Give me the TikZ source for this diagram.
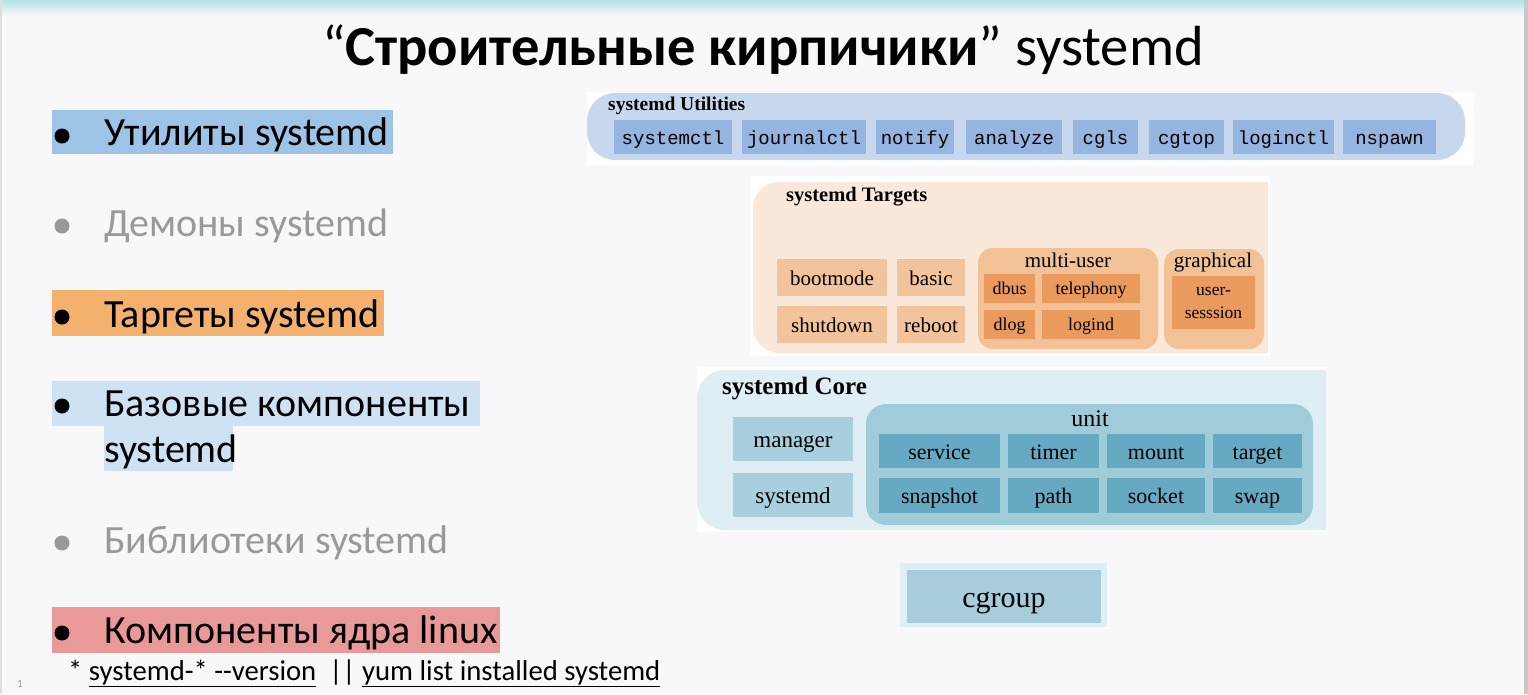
\documentclass[tikz,border=0pt]{standalone}
\usepackage{fontspec}
\setmainfont{Carlito}
\newfontfamily\dserif{Liberation Serif}
\newfontfamily\dmono{Liberation Mono}

\definecolor{pagebg}{HTML}{F8F8FA}
\definecolor{topband}{HTML}{B4E2E6}
\definecolor{edgegray}{HTML}{C8C8C8}
\definecolor{hlblue}{HTML}{9DC3E6}
\definecolor{hlorange}{HTML}{F4B16E}
\definecolor{hllight}{HTML}{CFE2F3}
\definecolor{hlpink}{HTML}{EA9999}
\definecolor{dimtext}{HTML}{999999}
\definecolor{utilpanel}{HTML}{C7D8EE}
\definecolor{utilbox}{HTML}{96B4E0}
\definecolor{tgtpanel}{HTML}{FAE8DA}
\definecolor{tgtbox}{HTML}{F3C39B}
\definecolor{tgtgroup}{HTML}{F2C195}
\definecolor{tgtdark}{HTML}{EA9A5C}
\definecolor{corepanel}{HTML}{DEEEF4}
\definecolor{corebox}{HTML}{A7CFDD}
\definecolor{unitbox}{HTML}{A0CCDA}
\definecolor{unitinner}{HTML}{66A9C3}
\definecolor{cgouter}{HTML}{DFEFF6}
\definecolor{cginner}{HTML}{A7CDDC}

% box given by its corners: name, x1, y1, x2, y2, style, text
\newcommand\cbox[7]{%
  \node[#6, minimum width={(#4)-(#2)}, minimum height={(#5)-(#3)}]
    (#1) at ({((#2)+(#4))/2},{((#3)+(#5))/2}) {#7};}

\tikzset{
  bullettext/.style={anchor=base west, inner sep=0pt, font=\fontsize{40}{48}\selectfont},
  ubox/.style={fill=utilbox, inner sep=0pt, text height=15.5pt, text depth=0.8pt,
    font=\dmono\fontsize{19}{21}\selectfont},
  tbox/.style={fill=tgtbox, inner sep=0pt, text height=16.9pt, text depth=1.2pt,
    font=\dserif\fontsize{21}{23}\selectfont},
  tdark/.style={fill=tgtdark, inner sep=0pt, text height=13.9pt, text depth=1.6pt,
    font=\dserif\fontsize{18}{20}\selectfont},
  cbx/.style={fill=corebox, inner sep=0pt, text height=18.2pt, text depth=1.6pt,
    font=\dserif\fontsize{23}{25}\selectfont},
  ubx/.style={fill=unitinner, inner sep=0pt, text height=17.5pt, text depth=1.4pt,
    font=\dserif\fontsize{22}{24}\selectfont},
  paneltitle/.style={anchor=base west, inner sep=0pt, font=\dserif\bfseries\fontsize{#1}{#1}\selectfont},
  grouplabel/.style={anchor=base, inner sep=0pt, font=\dserif\fontsize{21}{23}\selectfont},
}

\begin{document}
\begin{tikzpicture}[x=1pt,y=-1pt]
\useasboundingbox (0,0) rectangle (1528,694);
% slide background
\fill[pagebg] (0,0) rectangle (1528,694);
\shade[top color=topband, bottom color=pagebg] (0,0) rectangle (1528,16);
\fill[edgegray!60] (0,0) rectangle (1.5,694);
\fill[edgegray] (1524,0) rectangle (1528,694);

% title
\node[anchor=base, inner sep=0pt, font=\fontsize{56.5}{60}\selectfont] (title) at (763,65)
  {“\textbf{Строительные кирпичики}” systemd};

% bullet list
\fill[hlblue] (52,110) rectangle (393,154);
\fill[hlorange] (52,290) rectangle (384,336);
\fill[hllight] (52,381) rectangle (480,426);
\fill[hllight] (104,426) rectangle (233,471);
\fill[hlpink] (52,607) rectangle (500,653);

\fill (62,136) circle (7.5);
\fill[dimtext] (62,226) circle (7.5);
\fill (62,317) circle (7.5);
\fill (62,406) circle (7.5);
\fill[dimtext] (62,543) circle (7.5);
\fill (62,633) circle (7.5);

\node[bullettext] (b1) at (104,145) {Утилиты systemd};
\node[bullettext, text=dimtext] (b2) at (104,236) {Демоны systemd};
\node[bullettext] (b3) at (104,327) {Таргеты systemd};
\node[bullettext] (b4) at (104,416) {Базовые компоненты};
\node[bullettext] (b4b) at (104,462) {systemd};
\node[bullettext, text=dimtext] (b5) at (104,553) {Библиотеки systemd};
\node[bullettext] (b6) at (104,643) {Компоненты ядра linux};

\node[anchor=base west, inner sep=0pt, font=\fontsize{28.7}{32}\selectfont] (foot) at (68,680)
  {* \underline{systemd-* -\kern0pt-version}\ \ || \underline{yum list installed systemd}};
\node[anchor=base, inner sep=0pt, text=dimtext, font=\fontsize{11}{12}\selectfont] (pg1) at (20,687) {1};

% ---- systemd Utilities
\fill[white] (587,92) rectangle (1473,165);
\fill[utilpanel, rounded corners=28] (587,93) rectangle (1465,160);
\node[paneltitle=19.5] (utitle) at (608,110) {systemd Utilities};
\cbox{u1}{614}{120}{732}{154}{ubox}{systemctl}
\cbox{u2}{742}{120}{866}{154}{ubox}{journalctl}
\cbox{u3}{876}{120}{954}{154}{ubox}{notify}
\cbox{u4}{966}{120}{1062}{154}{ubox}{analyze}
\cbox{u5}{1073}{120}{1138}{154}{ubox}{cgls}
\cbox{u6}{1149}{120}{1224}{154}{ubox}{cgtop}
\cbox{u7}{1233}{120}{1334}{154}{ubox}{loginctl}
\cbox{u8}{1343}{120}{1436}{154}{ubox}{nspawn}

% ---- systemd Targets
\fill[white] (750,176) rectangle (1270,356);
\begin{scope}
  \clip (740,170) rectangle (1268,360);
  \fill[tgtpanel, rounded corners=26] (753,182) rectangle (1300,353);
\end{scope}
\node[paneltitle=20.5] (ttitle) at (786,201) {systemd Targets};
\cbox{t1}{777}{259}{887}{296}{tbox}{bootmode}
\cbox{t2}{897}{259}{965}{296}{tbox}{basic}
\cbox{t3}{777}{306}{887}{343}{tbox}{shutdown}
\cbox{t4}{897}{306}{965}{343}{tbox}{reboot}
\fill[tgtgroup, rounded corners=15] (978,248) rectangle (1158,349);
\node[grouplabel] (mu) at (1068,267) {multi-user};
\cbox{t5}{984}{274}{1035}{303}{tdark}{dbus}
\cbox{t6}{1042}{274}{1140}{303}{tdark}{telephony}
\cbox{t7}{984}{310}{1035}{339}{tdark}{dlog}
\cbox{t8}{1042}{310}{1140}{339}{tdark}{logind}
\fill[tgtgroup, rounded corners=15] (1164,249) rectangle (1264,349);
\node[grouplabel] (gr) at (1213,267) {graphical};
\cbox{t9}{1172}{276}{1255}{329}{fill=tgtdark, inner sep=0pt, align=center, font=\dserif\fontsize{17.5}{23}\selectfont}{user-\\sesssion}

% ---- systemd Core
\fill[white] (697,367) rectangle (1326,532);
\begin{scope}
  \clip (690,360) rectangle (1326,540);
  \fill[corepanel, rounded corners=28] (697,370) rectangle (1360,530);
\end{scope}
\node[paneltitle=25] (ctitle) at (722,394) {systemd Core};
\cbox{c1}{733}{417}{853}{461}{cbx}{manager}
\cbox{c2}{733}{473}{853}{517}{cbx}{systemd}
\fill[unitbox, rounded corners=20] (866,404) rectangle (1313,525);
\node[grouplabel, font=\dserif\fontsize{24}{26}\selectfont] (unit) at (1090,426) {unit};
\cbox{k1}{879}{434}{1000}{468}{ubx}{service}
\cbox{k2}{1008}{434}{1099}{468}{ubx}{timer}
\cbox{k3}{1107}{434}{1205}{468}{ubx}{mount}
\cbox{k4}{1213}{434}{1302}{468}{ubx}{target}
\cbox{k5}{879}{478}{1000}{513}{ubx}{snapshot}
\cbox{k6}{1008}{478}{1099}{513}{ubx}{path}
\cbox{k7}{1107}{478}{1205}{513}{ubx}{socket}
\cbox{k8}{1213}{478}{1302}{513}{ubx}{swap}

% ---- cgroup
\fill[cgouter] (900,563) rectangle (1107,627);
\cbox{cg}{907}{570}{1101}{623}{fill=cginner, inner sep=0pt, text height=23.8pt, text depth=2pt,
  font=\dserif\fontsize{30}{32}\selectfont}{cgroup}
\end{tikzpicture}
\end{document}
